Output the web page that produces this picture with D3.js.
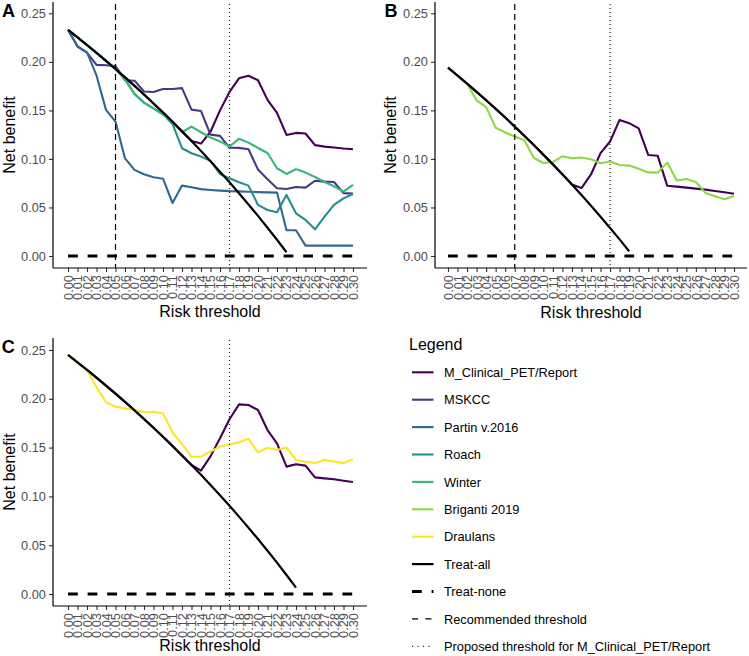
<!DOCTYPE html>
<html><head><meta charset="utf-8">
<script src="https://cdn.jsdelivr.net/npm/d3@7"></script>
<style>
body{margin:0;background:#fff}
svg{display:block}
text{font-family:"Liberation Sans",Arial,Helvetica,sans-serif}
</style>
</head><body>
<svg id="chart" width="749" height="656"></svg>
<script>
// ---------- DATA ----------
const thresholds = ["0.00","0.01","0.02","0.03","0.04","0.05","0.06","0.07","0.08","0.09","0.10",
  "0.11","0.12","0.13","0.14","0.15","0.16","0.17","0.18","0.19","0.20",
  "0.21","0.22","0.23","0.24","0.25","0.26","0.27","0.28","0.29","0.30"];
const yTickValues = [0, 0.05, 0.10, 0.15, 0.20, 0.25];

// Panel A
const treatAllA = [0.2330,0.2253,0.2173,0.2093,0.2010,0.1926,0.1840,0.1753,0.1663,0.1571,0.1478,0.1382,0.1284,0.1184,0.1081,0.0976,0.0869,0.0759,0.0646,0.0531,0.0413,0.0291,0.0167,0.0039];
const mClinA   = [0.2330,0.2253,0.2173,0.2093,0.2010,0.1926,0.1840,0.1753,0.1663,0.1571,0.1478,0.1382,0.1284,0.1184,0.1158,0.1280,0.1500,0.1690,0.1830,0.1856,0.1810,0.1608,0.1475,0.1247,0.1268,0.1262,0.1142,0.1127,0.1117,0.1107,0.1100];
const mskccA   = [0.2330,0.2158,0.2096,0.1969,0.1965,0.1956,0.1811,0.1806,0.1694,0.1689,0.1720,0.1720,0.1729,0.1508,0.1493,0.1250,0.1237,0.1115,0.1114,0.1100,0.0890,0.0790,0.0698,0.0690,0.0710,0.0704,0.0775,0.0766,0.0762,0.0648,0.0643];
const partinA  = [0.2330,0.2160,0.2098,0.1860,0.1505,0.1385,0.1005,0.0887,0.0842,0.0812,0.0796,0.0546,0.0725,0.0708,0.0689,0.0680,0.0673,0.0668,0.0666,0.0662,0.0658,0.0655,0.0653,0.0265,0.0265,0.0107,0.0107,0.0107,0.0107,0.0107,0.0107];
const roachA   = [0.2330,0.2253,0.2173,0.2093,0.2010,0.1926,0.1820,0.1670,0.1580,0.1520,0.1460,0.1360,0.1110,0.1058,0.1024,0.0980,0.0845,0.0800,0.0759,0.0725,0.0526,0.0474,0.0450,0.0629,0.0440,0.0371,0.0275,0.0405,0.0526,0.0594,0.0639];
const winterA  = [0.2330,0.2253,0.2173,0.2093,0.2010,0.1926,0.1820,0.1670,0.1580,0.1520,0.1460,0.1380,0.1275,0.1333,0.1275,0.1220,0.1180,0.1127,0.1208,0.1168,0.1113,0.1061,0.0904,0.0845,0.0895,0.0859,0.0814,0.0762,0.0718,0.0663,0.0732];

// Panel B
const treatAllB = [0.1940,0.1859,0.1776,0.1691,0.1604,0.1516,0.1426,0.1333,0.1239,0.1143,0.1044,0.0944,0.0841,0.0736,0.0628,0.0518,0.0405,0.0289,0.0171,0.0049];
const mClinB    = [0.1940,0.1859,0.1776,0.1691,0.1604,0.1516,0.1426,0.1333,0.1239,0.1143,0.1044,0.0944,0.0841,0.0736,0.0700,0.0840,0.1060,0.1179,0.1402,0.1368,0.1315,0.1041,0.1032,0.0723,0.0715,0.0704,0.0694,0.0684,0.0670,0.0656,0.0641];
const brigantiB = [0.1940,0.1859,0.1776,0.1603,0.1533,0.1321,0.1273,0.1230,0.1193,0.1012,0.0958,0.0968,0.1028,0.1007,0.1014,0.0997,0.0955,0.0973,0.0938,0.0931,0.0898,0.0861,0.0859,0.0962,0.0777,0.0794,0.0762,0.0650,0.0615,0.0584,0.0619];

// Panel C
const treatAllC = [0.2450,0.2374,0.2296,0.2216,0.2135,0.2053,0.1968,0.1882,0.1793,0.1703,0.1611,0.1517,0.1420,0.1322,0.1221,0.1118,0.1012,0.0904,0.0793,0.0679,0.0563,0.0443,0.0321,0.0195,0.0066];
const mClinC    = [0.2450,0.2374,0.2296,0.2216,0.2135,0.2053,0.1968,0.1882,0.1793,0.1703,0.1611,0.1517,0.1420,0.1322,0.1264,0.1410,0.1595,0.1790,0.1943,0.1936,0.1885,0.1680,0.1544,0.1305,0.1329,0.1315,0.1195,0.1185,0.1175,0.1161,0.1148];
const draulansC = [0.2450,0.2374,0.2296,0.2120,0.1965,0.1920,0.1900,0.1888,0.1864,0.1864,0.1851,0.1655,0.1535,0.1407,0.1407,0.1460,0.1510,0.1532,0.1555,0.1590,0.1452,0.1498,0.1475,0.1501,0.1373,0.1356,0.1342,0.1373,0.1356,0.1342,0.1381];

const recommendedA = "0.05", recommendedB = "0.07";
const proposedThreshold = "0.17";

const modelNames  = ["M_Clinical_PET/Report","MSKCC","Partin v.2016","Roach","Winter","Briganti 2019","Draulans"];
const modelColors = ["#440154","#443A83","#31688E","#21908C","#35B779","#8FD744","#FDE725"];
const legendLabels = modelNames.concat(["Treat-all","Treat-none","Recommended threshold","Proposed threshold for M_Clinical_PET/Report"]);

// ---------- DRAWING ----------
const svg = d3.select("#chart");
const FONT_TICK = 12.8, FONT_TITLE = 16;

function drawPanel(cfg) {
  const g = svg.append("g");
  const x = d3.scalePoint().domain(thresholds).range([cfg.xFirst, cfg.xLast]);
  const y = d3.scaleLinear().domain([0, 0.25]).range([cfg.yZero, cfg.yTop]);

  // y axis
  const ya = g.append("g").attr("transform", `translate(${cfg.left},0)`)
    .call(d3.axisLeft(y).tickValues(yTickValues).tickFormat(d3.format(".2f")).tickSize(4).tickPadding(3));
  ya.select(".domain").remove();
  ya.selectAll(".tick line").attr("stroke", "#333").attr("stroke-width", 1.1);
  ya.selectAll(".tick text").attr("fill", "#4D4D4D").style("font-size", FONT_TICK + "px");
  g.append("line").attr("x1", cfg.left).attr("x2", cfg.left).attr("y1", cfg.top).attr("y2", cfg.bottom)
    .attr("stroke", "#000").attr("stroke-width", 1.2);

  // x axis
  const xa = g.append("g").attr("transform", `translate(0,${cfg.bottom})`)
    .call(d3.axisBottom(x).tickSize(4).tickSizeOuter(0));
  xa.select(".domain").remove();
  xa.selectAll(".tick line").attr("stroke", "#333").attr("stroke-width", 1.1);
  xa.selectAll(".tick text")
    .attr("fill", "#4D4D4D").style("font-size", FONT_TICK + "px")
    .attr("transform", "rotate(-90)")
    .attr("text-anchor", "end")
    .attr("x", -7).attr("y", 0).attr("dy", "0.35em");
  g.append("line").attr("x1", cfg.left).attr("x2", cfg.right).attr("y1", cfg.bottom).attr("y2", cfg.bottom)
    .attr("stroke", "#000").attr("stroke-width", 1.2);

  // titles
  g.append("text").attr("x", (cfg.left + cfg.right) / 2).attr("y", cfg.xTitleY)
    .attr("text-anchor", "middle").style("font-size", FONT_TITLE + "px").text("Risk threshold");
  g.append("text").attr("transform", `translate(${cfg.yTitleX},${(cfg.top + cfg.bottom) / 2}) rotate(-90)`)
    .attr("text-anchor", "middle").style("font-size", FONT_TITLE + "px").text("Net benefit");
  g.append("text").attr("x", cfg.letterX).attr("y", cfg.letterY)
    .style("font-size", "18px").style("font-weight", "bold").text(cfg.letter);

  const line = d3.line().defined(d => d != null)
    .x((d, i) => x(thresholds[i])).y(d => y(d));

  // model curves
  cfg.models.forEach(m => {
    g.append("path").datum(m.values).attr("d", line)
      .attr("fill", "none").attr("stroke", modelColors[m.idx])
      .attr("stroke-width", 2.1).attr("stroke-linejoin", "round");
  });

  // treat-none
  g.append("path").datum(thresholds.map(() => 0)).attr("d", line)
    .attr("fill", "none").attr("stroke", "#000").attr("stroke-width", 3)
    .attr("stroke-dasharray", "9.8,9.8");

  // treat-all
  g.append("path").datum(cfg.treatAll).attr("d", line)
    .attr("fill", "none").attr("stroke", "#000").attr("stroke-width", 2.2);

  // threshold lines
  if (cfg.recommended) {
    g.append("line").attr("x1", x(cfg.recommended)).attr("x2", x(cfg.recommended))
      .attr("y1", cfg.top + 2).attr("y2", cfg.bottom)
      .attr("stroke", "#000").attr("stroke-width", 1.2).attr("stroke-dasharray", "6,4");
  }
  g.append("line").attr("x1", x(proposedThreshold)).attr("x2", x(proposedThreshold))
    .attr("y1", cfg.top + 2).attr("y2", cfg.bottom)
    .attr("stroke", "#222").attr("stroke-width", 1.2).attr("stroke-dasharray", "1.1,2.9");
}

drawPanel({
  letter: "A", letterX: 2, letterY: 17,
  left: 53, right: 367, top: 2, bottom: 268,
  xFirst: 68, xLast: 353, yZero: 256, yTop: 13.3,
  xTitleY: 317, yTitleX: 15,
  treatAll: treatAllA, recommended: recommendedA,
  models: [{idx: 0, values: mClinA}, {idx: 1, values: mskccA}, {idx: 2, values: partinA},
           {idx: 3, values: roachA}, {idx: 4, values: winterA}]
});
drawPanel({
  letter: "B", letterX: 384.5, letterY: 17,
  left: 435, right: 747, top: 2, bottom: 268,
  xFirst: 448, xLast: 734, yZero: 256, yTop: 13.3,
  xTitleY: 318, yTitleX: 396,
  treatAll: treatAllB, recommended: recommendedB,
  models: [{idx: 0, values: mClinB}, {idx: 5, values: brigantiB}]
});
drawPanel({
  letter: "C", letterX: 1.8, letterY: 353,
  left: 53, right: 367, top: 338, bottom: 606,
  xFirst: 68, xLast: 353, yZero: 594, yTop: 350,
  xTitleY: 651, yTitleX: 15,
  treatAll: treatAllC, recommended: null,
  models: [{idx: 0, values: mClinC}, {idx: 6, values: draulansC}]
});

// legend
const lg = svg.append("g");
lg.append("text").attr("x", 409).attr("y", 350).style("font-size", "16px").text("Legend");
legendLabels.forEach((lab, k) => {
  const cy = 372.3 + k * 27.4;
  const key = lg.append("line").attr("x1", 412).attr("x2", 433.5).attr("y1", cy).attr("y2", cy);
  if (k < modelColors.length) {
    key.attr("stroke", modelColors[k]).attr("stroke-width", 2.1);
  } else if (lab === "Treat-all") {
    key.attr("stroke", "#000").attr("stroke-width", 2.2);
  } else if (lab === "Treat-none") {
    key.attr("stroke", "#000").attr("stroke-width", 3).attr("stroke-dasharray", "9.8,9.8");
  } else if (lab === "Recommended threshold") {
    key.attr("stroke", "#000").attr("stroke-width", 1.2).attr("stroke-dasharray", "6,7.5");
  } else {
    key.attr("stroke", "#222").attr("stroke-width", 1.2).attr("stroke-dasharray", "1.1,4.4");
  }
  lg.append("text").attr("x", 444).attr("y", cy + 4.6).style("font-size", "12.8px").text(lab);
});
</script>
</body></html>
